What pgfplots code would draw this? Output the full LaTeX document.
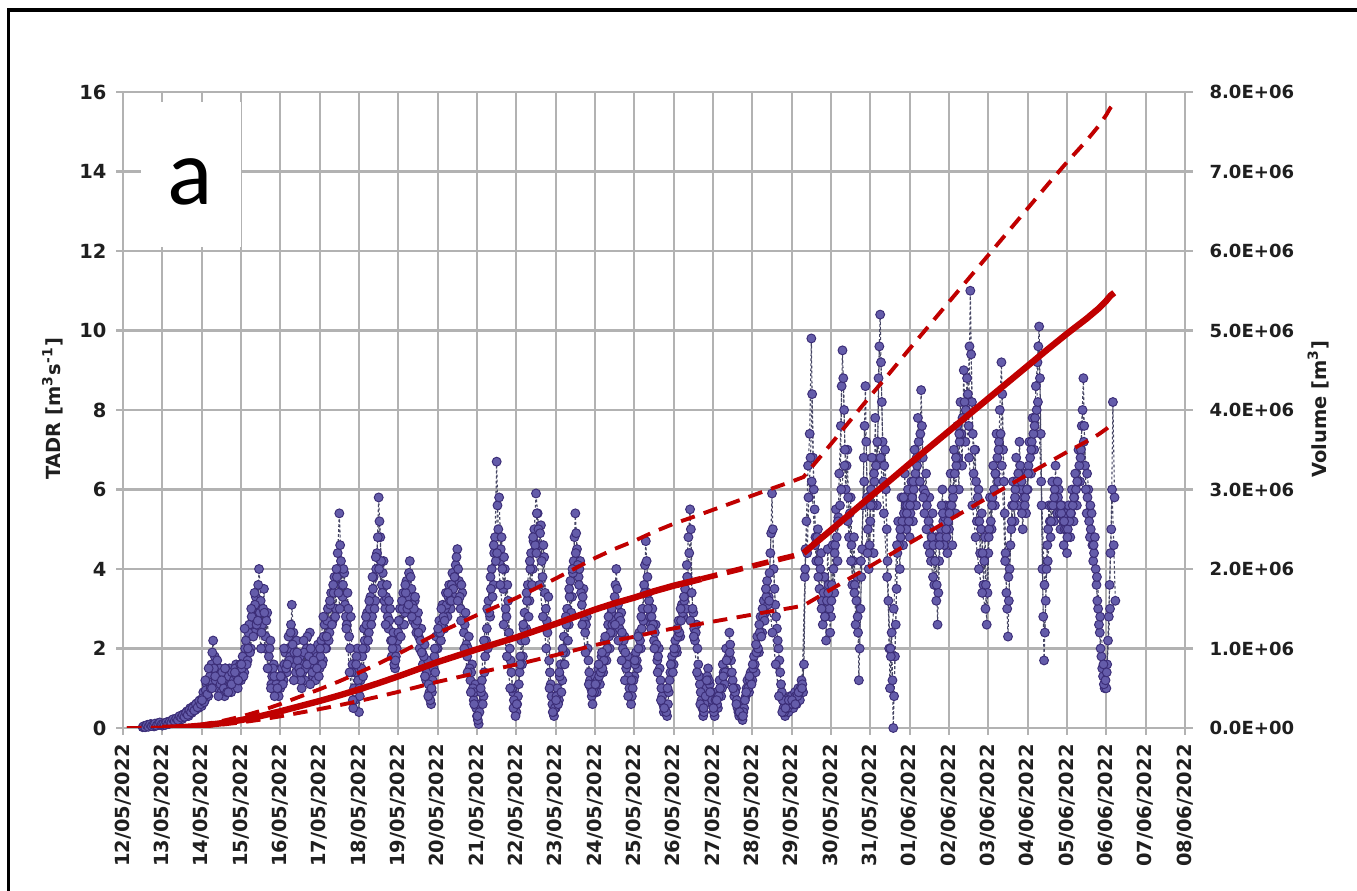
\documentclass[border=0pt]{standalone}
\usepackage{pgfplots}
\pgfplotsset{compat=1.18}
\usepackage{pgfplotstable}
\usepackage{fontspec}
\setmainfont{DejaVu Sans}
\newfontfamily\carlito{Carlito}
\definecolor{gridgray}{RGB}{178,178,178}
\definecolor{vred}{RGB}{192,0,0}
\definecolor{mkfill}{RGB}{100,92,170}
\definecolor{mkdraw}{RGB}{60,46,120}
\definecolor{lnk}{RGB}{70,70,100}

% TADR, hourly samples from 12/05 12:00 (x in days since 12/05 00:00)
\pgfplotstableread[row sep=\\, header=false]{
0.02\\0.05\\0.03\\0.08\\0.05\\0.1\\0.06\\0.04\\0.09\\0.12\\0.08\\0.1\\
0.06\\0.12\\0.08\\0.15\\0.1\\0.18\\0.12\\0.2\\0.15\\0.25\\0.18\\0.3\\0.22\\0.35\\0.28\\0.42\\0.3\\0.5\\0.38\\0.55\\0.45\\0.62\\0.5\\0.7\\
0.55\\0.9\\0.7\\1.1\\0.8\\1.3\\1.6\\2.2\\1.8\\1.4\\1.0\\1.5\\0.9\\1.3\\0.8\\1.2\\1.0\\1.5\\0.9\\1.3\\1.1\\1.6\\1.0\\1.4\\
1.2\\1.8\\1.4\\2.2\\1.7\\2.6\\2.0\\3.0\\2.4\\3.3\\2.8\\4.0\\3.2\\2.6\\3.5\\2.3\\2.9\\1.8\\2.2\\1.3\\1.6\\0.9\\1.2\\0.8\\
1.0\\1.5\\1.2\\1.9\\1.4\\2.3\\1.8\\3.1\\2.4\\1.6\\2.2\\1.3\\1.8\\1.0\\1.6\\1.2\\2.0\\1.5\\2.4\\1.7\\1.3\\1.9\\1.4\\2.1\\
1.5\\2.2\\1.7\\2.6\\2.0\\3.0\\2.4\\3.4\\2.7\\3.8\\3.0\\4.4\\5.4\\4.2\\3.3\\3.9\\2.8\\3.4\\2.3\\2.8\\1.6\\1.0\\1.4\\2.0\\
0.4\\1.2\\1.8\\2.5\\2.0\\2.9\\2.4\\3.3\\2.8\\3.8\\3.2\\4.4\\5.8\\4.8\\3.6\\4.2\\3.0\\3.6\\2.5\\3.0\\1.8\\2.4\\1.5\\2.0\\
2.4\\3.0\\2.6\\3.4\\2.9\\3.7\\3.3\\4.2\\3.5\\2.7\\3.2\\2.4\\2.9\\2.0\\2.5\\1.6\\2.1\\1.2\\1.7\\0.9\\0.6\\1.2\\1.8\\2.3\\
2.0\\2.7\\2.2\\3.1\\2.5\\3.4\\2.8\\3.6\\3.0\\3.9\\3.3\\4.1\\4.5\\3.7\\3.0\\3.4\\2.4\\2.9\\1.8\\2.3\\1.2\\1.6\\0.7\\1.1\\
0.3\\0.1\\0.6\\1.2\\0.8\\1.8\\2.5\\3.2\\2.8\\4.0\\3.6\\4.8\\6.7\\5.0\\4.2\\4.8\\3.5\\4.0\\2.8\\3.2\\2.0\\1.4\\0.9\\0.5\\
0.4\\0.8\\1.4\\2.2\\1.8\\2.9\\2.5\\3.6\\3.2\\4.4\\4.0\\5.0\\5.9\\5.4\\4.6\\5.1\\3.8\\4.3\\3.0\\2.4\\1.7\\1.1\\0.6\\0.3\\
0.5\\1.0\\0.7\\1.6\\1.2\\2.3\\1.9\\3.0\\2.6\\3.7\\3.3\\4.2\\5.4\\4.5\\3.8\\4.2\\3.1\\3.5\\2.4\\2.8\\1.7\\1.2\\0.8\\1.1\\
1.3\\0.9\\1.5\\1.1\\1.8\\1.4\\2.2\\1.7\\2.6\\2.0\\2.9\\2.4\\3.3\\4.0\\3.1\\2.5\\2.9\\2.0\\2.3\\1.5\\1.8\\1.0\\0.6\\1.0\\
1.3\\1.9\\1.5\\2.4\\2.0\\3.0\\3.6\\4.7\\3.8\\3.2\\2.6\\3.0\\2.2\\2.6\\1.7\\2.0\\1.2\\0.8\\0.4\\0.6\\0.3\\0.9\\1.4\\1.8\\
1.6\\2.2\\1.9\\2.7\\2.3\\3.1\\2.8\\3.5\\4.1\\4.8\\5.5\\3.4\\2.9\\2.2\\2.6\\1.6\\1.1\\0.7\\0.3\\0.6\\1.0\\1.5\\1.1\\0.8\\
0.6\\0.3\\0.9\\0.5\\1.2\\0.8\\1.6\\1.1\\2.0\\1.4\\2.4\\1.7\\1.2\\0.8\\1.0\\0.5\\0.3\\0.6\\0.2\\0.5\\0.8\\1.2\\0.9\\1.4\\
1.2\\1.8\\1.4\\2.3\\1.9\\2.8\\2.4\\3.2\\2.9\\3.7\\3.3\\4.4\\5.9\\4.0\\3.1\\2.5\\2.0\\1.4\\0.9\\0.5\\0.3\\0.6\\0.4\\0.8\\
0.8\\0.5\\0.9\\0.6\\1.0\\0.7\\1.2\\0.9\\3.8\\5.2\\6.6\\7.4\\9.8\\6.8\\5.5\\4.2\\5.0\\3.5\\4.4\\2.6\\3.8\\2.2\\4.5\\3.0\\
2.8\\4.6\\3.4\\5.5\\4.2\\6.4\\7.6\\9.5\\8.0\\6.0\\7.0\\4.8\\5.8\\3.6\\4.8\\2.6\\3.8\\1.2\\3.0\\4.5\\6.8\\8.6\\5.8\\4.0\\
5.2\\6.8\\4.4\\7.8\\5.6\\8.8\\10.4\\8.2\\6.2\\7.0\\5.0\\3.2\\1.0\\2.4\\0.0\\1.8\\3.5\\5.2\\4.0\\5.8\\4.6\\6.4\\5.0\\6.0\\
4.8\\6.2\\5.2\\7.0\\5.6\\7.8\\6.2\\8.5\\6.8\\5.4\\6.4\\4.6\\5.8\\4.2\\5.4\\3.6\\4.8\\2.6\\4.2\\5.0\\6.0\\4.6\\5.6\\4.4\\
5.0\\6.4\\4.6\\7.0\\5.4\\7.6\\6.0\\8.2\\6.6\\9.0\\7.2\\8.8\\7.6\\11.0\\8.2\\6.4\\7.0\\5.2\\6.0\\4.4\\5.4\\3.6\\4.8\\2.6\\
4.4\\5.8\\5.0\\6.6\\5.6\\7.4\\6.2\\8.0\\9.2\\7.0\\5.4\\3.4\\2.3\\4.0\\5.0\\6.2\\5.2\\6.8\\5.6\\7.2\\6.0\\5.0\\6.4\\5.4\\
6.0\\7.2\\6.4\\7.8\\7.0\\8.6\\9.2\\10.1\\7.4\\4.0\\1.7\\3.2\\4.6\\5.6\\4.8\\6.2\\5.2\\6.6\\5.4\\6.0\\5.0\\5.6\\4.6\\5.4\\
4.4\\5.6\\4.8\\6.0\\5.2\\6.4\\5.6\\7.0\\6.2\\7.6\\8.8\\6.6\\5.4\\6.0\\4.8\\5.4\\4.2\\4.8\\3.6\\3.0\\2.4\\1.8\\1.3\\1.0\\
1.0\\2.2\\3.6\\5.0\\8.2\\5.8\\
}\tadr

% TADR, the samples half an hour later (12/05 12:30 onward)
\pgfplotstableread[row sep=\\, header=false]{
0.04\\0.02\\0.07\\0.03\\0.09\\0.05\\0.08\\0.11\\0.06\\0.1\\0.14\\0.09\\
0.1\\0.08\\0.14\\0.1\\0.16\\0.13\\0.22\\0.17\\0.24\\0.2\\0.3\\0.26\\0.32\\0.28\\0.38\\0.33\\0.45\\0.4\\0.5\\0.44\\0.6\\0.52\\0.68\\0.6\\
0.75\\0.65\\0.95\\0.85\\1.15\\1.0\\1.9\\1.5\\1.2\\1.7\\1.3\\1.1\\1.4\\1.0\\1.5\\0.9\\1.3\\1.1\\1.4\\1.2\\1.5\\1.3\\1.2\\1.6\\
1.5\\1.3\\2.0\\1.6\\2.4\\1.9\\2.8\\2.3\\3.1\\2.6\\3.6\\2.9\\2.4\\3.0\\2.0\\2.7\\1.5\\2.0\\1.1\\1.5\\0.8\\1.1\\1.0\\1.3\\
1.3\\1.1\\1.6\\1.5\\2.0\\1.7\\2.6\\2.1\\1.9\\1.4\\1.7\\1.5\\1.2\\1.4\\1.9\\1.5\\2.3\\1.8\\2.0\\1.4\\1.6\\1.2\\1.8\\1.3\\
1.8\\1.6\\2.3\\2.0\\2.7\\2.2\\3.1\\2.6\\3.4\\2.8\\3.8\\3.4\\4.6\\3.6\\4.0\\3.1\\2.6\\3.0\\2.0\\1.4\\0.5\\0.7\\1.8\\1.2\\
0.8\\1.5\\1.3\\2.2\\2.6\\2.2\\3.0\\2.6\\3.5\\3.0\\4.0\\4.8\\5.2\\4.2\\3.9\\3.2\\3.3\\2.8\\2.7\\2.2\\2.0\\1.6\\1.8\\2.2\\
2.7\\2.3\\3.0\\2.6\\3.4\\3.0\\3.9\\3.8\\3.1\\3.0\\2.6\\2.7\\2.3\\2.2\\1.9\\1.8\\1.5\\1.4\\1.1\\0.7\\0.9\\1.5\\1.4\\2.0\\
2.4\\2.4\\2.6\\2.8\\3.0\\3.1\\3.3\\3.2\\3.6\\3.5\\3.8\\4.3\\4.0\\3.3\\3.6\\2.7\\2.6\\2.1\\2.0\\1.5\\1.4\\1.0\\0.9\\0.5\\
0.2\\0.4\\0.9\\0.6\\1.4\\2.2\\2.0\\2.9\\3.5\\3.3\\4.4\\4.2\\5.6\\5.8\\4.5\\4.0\\4.3\\3.0\\3.6\\2.4\\1.7\\1.0\\0.7\\0.3\\
0.6\\1.1\\1.8\\1.6\\2.5\\2.2\\3.2\\2.8\\4.0\\3.6\\4.7\\4.6\\5.4\\5.0\\4.9\\4.2\\4.6\\3.4\\2.7\\3.3\\1.4\\0.8\\0.4\\0.5\\
0.8\\0.6\\1.3\\0.9\\1.9\\1.6\\2.6\\2.2\\3.3\\2.9\\3.9\\4.8\\4.9\\4.1\\4.0\\3.4\\3.3\\2.7\\2.6\\2.0\\1.4\\1.0\\0.6\\0.9\\
1.1\\1.2\\1.3\\1.4\\1.5\\1.7\\1.9\\2.0\\2.3\\2.4\\2.6\\2.7\\3.6\\3.5\\2.8\\2.7\\2.4\\2.2\\1.9\\1.6\\1.3\\0.8\\0.8\\1.2\\
1.6\\1.7\\2.0\\2.2\\2.5\\2.7\\4.1\\4.2\\3.4\\2.8\\2.8\\2.6\\2.4\\2.1\\1.8\\1.5\\1.0\\0.6\\0.5\\0.4\\0.6\\1.2\\1.6\\1.4\\
1.9\\2.0\\2.3\\2.4\\2.7\\2.9\\3.2\\3.0\\3.8\\4.4\\5.0\\3.0\\2.5\\2.4\\2.0\\1.3\\0.9\\0.5\\0.4\\0.8\\1.3\\1.2\\0.9\\0.7\\
0.4\\0.7\\0.6\\0.8\\1.0\\1.0\\1.4\\1.4\\1.7\\1.8\\2.1\\1.4\\1.0\\0.9\\0.7\\0.4\\0.4\\0.3\\0.4\\0.7\\1.0\\1.0\\1.2\\1.1\\
1.5\\1.6\\1.9\\2.0\\2.4\\2.3\\2.8\\2.7\\3.3\\3.1\\3.9\\4.9\\5.0\\3.5\\2.8\\2.2\\1.7\\1.1\\0.7\\0.4\\0.5\\0.5\\0.6\\0.6\\
0.6\\0.7\\0.8\\0.8\\0.9\\1.0\\1.1\\1.6\\4.5\\4.4\\5.8\\6.8\\8.4\\6.0\\4.8\\4.8\\4.2\\4.0\\3.2\\3.4\\2.8\\3.2\\3.6\\2.4\\
3.6\\4.0\\4.6\\4.8\\5.3\\5.6\\8.6\\8.8\\7.0\\6.6\\5.8\\5.4\\4.6\\4.2\\3.6\\3.2\\2.4\\2.0\\3.8\\5.6\\7.6\\7.2\\5.0\\4.6\\
6.0\\5.6\\6.2\\6.6\\7.2\\9.6\\9.2\\7.2\\6.6\\6.0\\4.2\\2.0\\1.8\\1.2\\0.8\\2.6\\4.4\\4.6\\4.8\\5.2\\5.4\\5.6\\5.6\\5.2\\
5.4\\5.8\\6.0\\6.4\\6.6\\7.2\\7.4\\7.6\\6.0\\5.9\\5.6\\5.2\\5.0\\4.8\\4.6\\4.2\\3.6\\3.4\\4.8\\5.6\\5.2\\5.3\\4.8\\5.2\\
5.6\\5.6\\5.8\\6.4\\6.6\\6.8\\7.2\\7.4\\7.8\\8.2\\8.0\\8.4\\9.6\\9.4\\7.4\\7.0\\6.2\\5.8\\5.2\\5.0\\4.4\\4.2\\3.6\\3.4\\
5.0\\5.2\\5.8\\6.0\\6.4\\6.8\\7.2\\7.4\\8.4\\6.2\\4.4\\3.0\\3.2\\4.6\\5.6\\5.6\\6.0\\6.2\\6.4\\6.6\\5.4\\5.8\\5.8\\6.0\\
6.6\\6.8\\7.2\\7.4\\7.8\\8.0\\9.6\\8.8\\5.6\\2.8\\2.4\\4.0\\5.0\\5.2\\5.6\\5.6\\6.0\\5.8\\5.8\\5.4\\5.4\\5.2\\5.0\\5.0\\
5.0\\5.2\\5.4\\5.6\\5.8\\6.0\\6.2\\6.6\\7.0\\8.0\\7.6\\6.0\\5.8\\5.2\\5.0\\4.6\\4.4\\4.0\\3.2\\2.6\\2.0\\1.5\\1.1\\1.2\\
1.6\\2.8\\4.4\\6.0\\4.6\\3.2\\
}\tadrb

% TADR, two-hourly samples from 14/05 00:15 onward
\pgfplotstableread[row sep=\\, header=false]{
0.7\\1.2\\1.5\\1.0\\1.3\\0.8\\1.2\\1.5\\0.9\\1.1\\1.4\\1.2\\
1.6\\2.5\\2.0\\3.0\\3.4\\2.7\\2.0\\2.9\\1.5\\1.0\\1.3\\1.0\\
1.3\\2.0\\1.6\\2.4\\1.2\\1.9\\1.4\\2.2\\1.6\\1.1\\1.7\\1.5\\
2.0\\2.8\\2.3\\3.2\\3.6\\4.0\\3.0\\3.6\\2.5\\1.4\\0.7\\1.6\\
1.0\\2.0\\2.8\\3.2\\3.8\\4.3\\4.0\\3.4\\2.6\\3.2\\2.2\\1.7\\
2.7\\3.2\\3.6\\3.1\\2.8\\3.3\\2.4\\1.9\\1.3\\0.8\\1.0\\2.0\\
2.5\\3.0\\2.7\\3.4\\3.2\\3.8\\3.2\\2.7\\2.0\\1.4\\0.9\\0.6\\
0.3\\1.0\\2.2\\3.0\\3.8\\4.6\\4.4\\3.6\\2.6\\1.8\\1.0\\0.5\\
0.6\\1.6\\2.6\\3.4\\4.2\\4.8\\4.4\\3.6\\2.8\\2.0\\1.0\\0.4\\
0.7\\1.4\\2.0\\2.8\\3.5\\4.0\\4.4\\3.6\\2.6\\1.9\\1.1\\0.9\\
1.1\\1.6\\1.9\\2.3\\2.8\\3.0\\2.6\\2.2\\1.7\\1.2\\0.8\\1.2\\
1.7\\2.3\\2.8\\3.4\\3.0\\2.5\\2.0\\1.4\\0.7\\0.5\\1.0\\1.6\\
2.0\\2.5\\3.0\\3.3\\3.8\\2.7\\2.3\\1.4\\0.6\\0.5\\1.2\\0.9\\
0.5\\0.7\\1.0\\1.3\\1.7\\1.9\\1.0\\0.6\\0.4\\0.3\\0.9\\1.3\\
1.6\\2.1\\2.6\\3.0\\3.5\\3.2\\2.4\\1.6\\0.8\\0.4\\0.5\\0.7\\
0.7\\0.6\\0.9\\1.0\\4.0\\5.8\\6.2\\4.6\\3.8\\3.0\\2.8\\3.4\\
3.2\\4.4\\5.2\\6.0\\6.6\\5.2\\4.2\\3.4\\2.8\\4.2\\6.2\\4.4\\
5.6\\6.4\\7.2\\6.8\\5.4\\3.8\\2.0\\3.0\\4.6\\5.0\\5.8\\5.4\\
5.6\\6.2\\6.8\\6.2\\5.8\\5.0\\4.4\\3.8\\3.2\\4.6\\5.4\\5.0\\
5.4\\6.0\\6.8\\7.4\\7.8\\8.0\\6.8\\5.6\\4.8\\4.0\\3.4\\3.0\\
4.8\\5.6\\6.4\\7.0\\6.6\\4.2\\3.8\\5.2\\5.8\\6.4\\6.2\\5.6\\
6.4\\7.0\\7.6\\8.2\\6.2\\3.6\\4.2\\5.2\\5.8\\6.2\\5.6\\5.2\\
4.8\\5.4\\5.8\\6.2\\6.8\\7.2\\6.4\\5.6\\4.6\\3.8\\2.8\\1.6\\
1.4\\3.0\\
}\tadrc

\begin{document}
\begin{tikzpicture}[x=1pt,y=1pt]
\path[use as bounding box] (0,0) rectangle (488.52,320.4);
\draw[line width=1.2pt] (3.1,-2) -- (3.1,316.8) -- (490,316.8);

\begin{axis}[
  at={(44.28pt,58.32pt)}, anchor=south west,
  scale only axis, width=382.32pt, height=228.96pt,
  xmin=0, xmax=27, ymin=0, ymax=16,
  axis lines*=left,
  axis line style={gridgray, line width=0.8pt},
  grid=major, major grid style={gridgray, line width=0.8pt},
  tick align=outside, major tick length=2.4pt,
  tick style={gridgray, line width=0.8pt},
  xtick={0,...,27},
  xticklabels={12/05/2022,13/05/2022,14/05/2022,15/05/2022,16/05/2022,17/05/2022,18/05/2022,19/05/2022,20/05/2022,21/05/2022,22/05/2022,23/05/2022,24/05/2022,25/05/2022,26/05/2022,27/05/2022,28/05/2022,29/05/2022,30/05/2022,31/05/2022,01/06/2022,02/06/2022,03/06/2022,04/06/2022,05/06/2022,06/06/2022,07/06/2022,08/06/2022},
  xticklabel style={rotate=90, anchor=east, font=\bfseries\fontsize{7}{8}\selectfont, text=black!88},
  ytick={0,2,4,6,8,10,12,14,16},
  yticklabels={0,2,4,6,8,10,12,14,16},
  yticklabel style={font=\bfseries\fontsize{7}{8}\selectfont, text=black!88},
  tadrstyle/.style={lnk, line width=0.4pt, dash pattern=on 1pt off 0.8pt,
    mark=*, mark size=1.6pt,
    mark options={solid, fill=mkfill, draw=mkdraw, line width=0.35pt}},
]
\addplot[tadrstyle] table[x expr=\coordindex/24+0.5, y index=0] {\tadr};
\addplot[tadrstyle] table[x expr=\coordindex/24+0.5208, y index=0] {\tadrb};
\addplot[tadrstyle] table[x expr=\coordindex/12+2.0104, y index=0] {\tadrc};
\fill[white] (axis cs:0.46,12.1) rectangle (axis cs:3.0,15.75);
\node[font=\carlito\fontsize{34}{34}\selectfont] at (axis cs:1.7,13.75) {a};
\end{axis}

\begin{axis}[
  at={(44.28pt,58.32pt)}, anchor=south west,
  scale only axis, width=382.32pt, height=228.96pt,
  xmin=0, xmax=27, ymin=0, ymax=8000000,
  axis x line=none, axis y line*=right,
  axis line style={gridgray, line width=0.8pt},
  tick align=outside, major tick length=2.8pt,
  tick style={gridgray, line width=0.8pt},
  scaled y ticks=false,
  ytick={0,1000000,2000000,3000000,4000000,5000000,6000000,7000000,8000000},
  yticklabels={0.0E+00,1.0E+06,2.0E+06,3.0E+06,4.0E+06,5.0E+06,6.0E+06,7.0E+06,8.0E+06},
  yticklabel style={font=\bfseries\fontsize{6.5}{7}\selectfont, text=black!88, xshift=2.5pt},
]
% upper bound (dashed)
\addplot[vred, line width=1.4pt, dash pattern=on 5.2pt off 3.4pt] coordinates {
(0.1,0) (1.0,2000) (1.5,14000) (2.0,43000) (2.5,86000) (3.0,143500) (3.5,215000) (4.0,301000) (4.5,395000) (5.0,488000) (5.5,588000) (6.0,696000) (6.5,811000) (7.0,933000) (7.5,1062000) (8.0,1191000) (8.5,1306000) (9.0,1421000) (9.5,1528000) (10,1636000) (10.5,1758000) (11,1880000) (11.5,2009000) (12,2138000) (12.5,2253000) (13,2353000) (13.5,2468000) (14,2569000) (14.5,2655000) (15.5,2834000) (16.3,2978000) (17.0,3100000) (17.3,3157000) (18,3573000) (18.5,3875000) (19,4176000) (19.5,4470000) (20,4771000) (20.5,5066000) (21,5360000) (21.5,5654000) (22,5948000) (22.5,6242000) (23,6536000) (23.5,6831000) (24,7118000) (24.5,7390000) (24.8,7570000) (25.0,7713000) (25.1,7799000) (25.2,7857000)};
% lower bound (dashed)
\addplot[vred, line width=1.4pt, dash pattern=on 5.2pt off 3.4pt] coordinates {
(0.1,0) (1.0,1000) (1.5,7000) (2.0,21000) (2.5,42000) (3.0,70000) (3.5,105000) (4.0,147000) (4.5,192500) (5.0,238000) (5.5,287000) (6.0,339500) (6.5,395500) (7.0,455000) (7.5,518000) (8.0,581000) (8.5,637000) (9.0,693000) (9.5,745500) (10,798000) (10.5,857500) (11,917000) (11.5,980000) (12,1043000) (12.5,1099000) (13,1148000) (13.5,1204000) (14,1253000) (14.5,1295000) (15.5,1382500) (16.3,1452500) (17.0,1512000) (17.3,1540000) (18,1743000) (18.5,1890000) (19,2037000) (19.5,2180500) (20,2327500) (20.5,2471000) (21,2614500) (21.5,2758000) (22,2901500) (22.5,3045000) (23,3188500) (23.5,3332000) (24,3472000) (24.5,3605000) (24.8,3692500) (25.0,3762500) (25.1,3804500) (25.2,3832500)};
% volume (solid)
\addplot[vred, line width=2.3pt] coordinates {
(1.0,0) (1.5,10000) (2.0,30000) (2.5,60000) (3.0,100000) (3.5,150000) (4.0,210000) (4.5,275000) (5.0,340000) (5.5,410000) (6.0,485000) (6.5,565000) (7.0,650000) (7.5,740000) (8.0,830000) (8.5,910000) (9.0,990000) (9.5,1065000) (10,1140000) (10.5,1225000) (11,1310000) (11.5,1400000) (12,1490000) (12.5,1570000) (13,1640000) (13.5,1720000) (14,1790000) (14.5,1850000) (14.7,1875000)};
\addplot[vred, line width=2.0pt, dash pattern=on 6pt off 3.5pt] coordinates {
(14.7,1875000) (15.5,1975000) (16.3,2075000) (17.0,2160000) (17.3,2200000)};
\addplot[vred, line width=2.3pt] coordinates {
(17.3,2200000) (18,2490000) (18.5,2700000) (19,2910000) (19.5,3115000) (20,3325000) (20.5,3530000) (21,3735000) (21.5,3940000) (22,4145000) (22.5,4350000) (23,4555000) (23.5,4760000) (24,4960000) (24.5,5150000) (24.8,5275000) (25.0,5375000) (25.1,5435000) (25.2,5475000)};
\end{axis}

\node[rotate=90, font=\bfseries\fontsize{7}{8}\selectfont, text=black!88] at (19,173.2) {TADR [m\textsuperscript{3}s\textsuperscript{-1}]};
\node[rotate=90, font=\bfseries\fontsize{7}{8}\selectfont, text=black!88] at (474.5,173.2) {Volume [m\textsuperscript{3}]};
\end{tikzpicture}
\end{document}
